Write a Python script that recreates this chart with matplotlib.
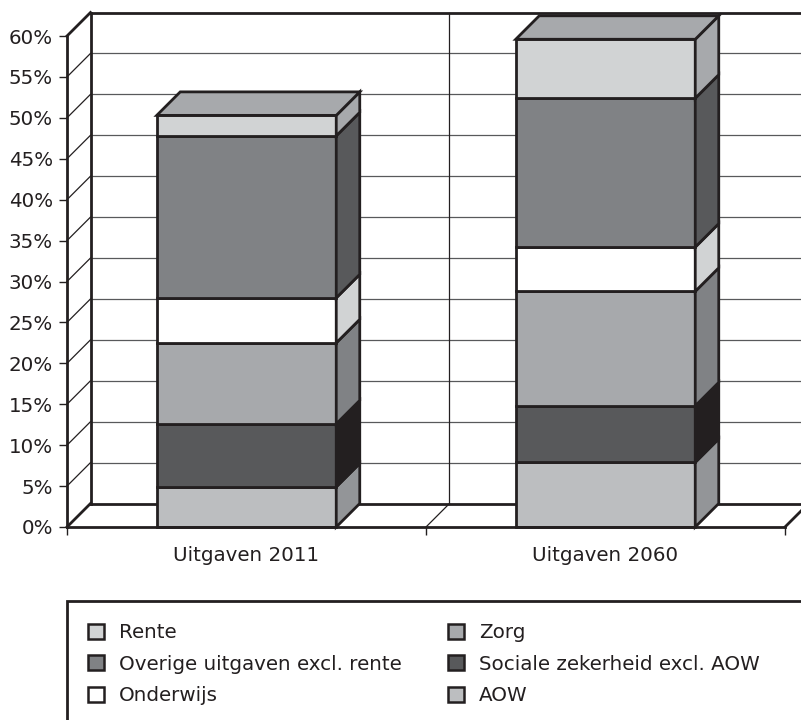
import matplotlib
matplotlib.use('Agg')
import matplotlib.pyplot as plt
from matplotlib.patches import Polygon, Rectangle, Patch
from typing import List

CATEGORIES = ['Uitgaven 2011', 'Uitgaven 2060']
AOW = [4.9, 7.9]
SOCIALE_ZEKERHEID = [7.7, 6.9]
ZORG = [9.9, 14.0]
ONDERWIJS = [5.5, 5.4]
OVERIGE = [19.8, 18.2]
RENTE = [2.5, 7.2]
Y_TICKS = list(range(0, 65, 5))

# stacking order bottom -> top, with (front colour, side colour)
SERIES = [
    ('AOW', AOW, '#bcbec0', '#939598'),
    ('Sociale zekerheid excl. AOW', SOCIALE_ZEKERHEID, '#58595b', '#231f20'),
    ('Zorg', ZORG, '#a7a9ac', '#808285'),
    ('Onderwijs', ONDERWIJS, '#ffffff', '#d1d3d4'),
    ('Overige uitgaven excl. rente', OVERIGE, '#808285', '#58595b'),
    ('Rente', RENTE, '#d1d3d4', '#a7a9ac'),
]
TOP_COLOUR = '#a7a9ac'
EDGE = '#231f20'
GRID = '#58595b'

FIG_W, FIG_H = 801, 720
AX_LEFT, AX_RIGHT, AX_TOP, AX_BOTTOM = 67, 785, 36, 527
DEPTH_PX = 23.5
BAR_WIDTH = 0.5
FONT_SIZE = 14.3

fig = plt.figure(figsize=(FIG_W / 100, FIG_H / 100), dpi=100)
ax = fig.add_axes([AX_LEFT / FIG_W, (FIG_H - AX_BOTTOM) / FIG_H,
                   (AX_RIGHT - AX_LEFT) / FIG_W, (AX_BOTTOM - AX_TOP) / FIG_H])
ax.set_xlim(0, len(CATEGORIES))
ax.set_ylim(0, 60)
ax.patch.set_visible(False)

# depth offset in data units
ddx = DEPTH_PX / ((AX_RIGHT - AX_LEFT) / len(CATEGORIES))
ddy = DEPTH_PX / ((AX_BOTTOM - AX_TOP) / 60)
n = len(CATEGORIES)


def line(xs: List[float], ys: List[float], lw: float, color: str = EDGE, z: float = 1):
    ax.plot(xs, ys, color=color, lw=lw, clip_on=False, zorder=z, solid_capstyle='projecting')


# back wall gridlines and side diagonals
for v in Y_TICKS:
    if 0 < v < 60:
        line([ddx, n + ddx], [v + ddy, v + ddy], 0.9, GRID)
        line([0, ddx], [v, v + ddy], 0.9, EDGE)
line([ddx, n + 0.2], [60 + ddy, 60 + ddy], 2)
line([0, ddx], [60, 60 + ddy], 2)
line([ddx, ddx], [ddy, 60 + ddy], 2)
for i in range(1, n):
    line([i + ddx, i + ddx], [ddy, 60 + ddy], 0.9, EDGE)
    line([i, i + ddx], [0, ddy], 0.9, EDGE)
# floor
line([ddx, n + ddx], [ddy, ddy], 2)
line([0, ddx], [0, ddy], 2)
line([n, n + ddx], [0, ddy], 2)

# 3d stacked bars
for i in range(n):
    x0 = i + (1 - BAR_WIDTH) / 2
    x1 = x0 + BAR_WIDTH
    base = 0.0
    for name, values, front, side in SERIES:
        top = base + values[i]
        ax.add_patch(Polygon([(x0, base), (x1, base), (x1, top), (x0, top)], closed=True,
                             facecolor=front, edgecolor=EDGE, lw=2, zorder=3, clip_on=False))
        ax.add_patch(Polygon([(x1, base), (x1 + ddx, base + ddy), (x1 + ddx, top + ddy), (x1, top)],
                             closed=True, facecolor=side, edgecolor=EDGE, lw=2, zorder=3,
                             clip_on=False, joinstyle='miter'))
        base = top
    ax.add_patch(Polygon([(x0, base), (x1, base), (x1 + ddx, base + ddy), (x0 + ddx, base + ddy)],
                         closed=True, facecolor=TOP_COLOUR, edgecolor=EDGE, lw=2, zorder=3,
                         clip_on=False, joinstyle='miter'))

# axes
for s in ['top', 'right']:
    ax.spines[s].set_visible(False)
for s in ['left', 'bottom']:
    ax.spines[s].set_linewidth(2)
    ax.spines[s].set_color(EDGE)
    ax.spines[s].set_zorder(5)
ax.set_yticks(Y_TICKS)
ax.set_yticklabels([f'{v}%' for v in Y_TICKS], fontsize=FONT_SIZE, color=EDGE)
ax.tick_params(axis='y', direction='out', length=6, width=1, pad=4, colors=EDGE)
ax.set_xticks(range(n + 1))
ax.set_xticklabels([''] * (n + 1))
ax.tick_params(axis='x', which='major', direction='out', length=6, width=1, colors=EDGE)
ax.set_xticks([i + 0.5 for i in range(n)], minor=True)
ax.set_xticklabels(CATEGORIES, minor=True, fontsize=FONT_SIZE, color=EDGE)
ax.tick_params(axis='x', which='minor', length=0, pad=14)

# legend
fig.patches.append(Rectangle((67 / FIG_W, -0.1), 1.0, (FIG_H - 601) / FIG_H + 0.1,
                             transform=fig.transFigure, fill=False, lw=2, edgecolor=EDGE))
handles = {name: Patch(facecolor=front, edgecolor=EDGE, lw=1.8, label=name)
           for name, values, front, side in SERIES}
columns = [['Rente', 'Overige uitgaven excl. rente', 'Onderwijs'],
           ['Zorg', 'Sociale zekerheid excl. AOW', 'AOW']]
for col, x_px in zip(columns, [88, 448]):
    fig.legend(handles=[handles[c] for c in col], loc='upper left',
               bbox_to_anchor=(x_px / FIG_W, (FIG_H - 623) / FIG_H), frameon=False,
               fontsize=FONT_SIZE, borderpad=0, borderaxespad=0, handlelength=0.8,
               handleheight=0.8, handletextpad=0.75, labelspacing=0.63, labelcolor=EDGE)

fig.savefig('out.png', dpi=100)
